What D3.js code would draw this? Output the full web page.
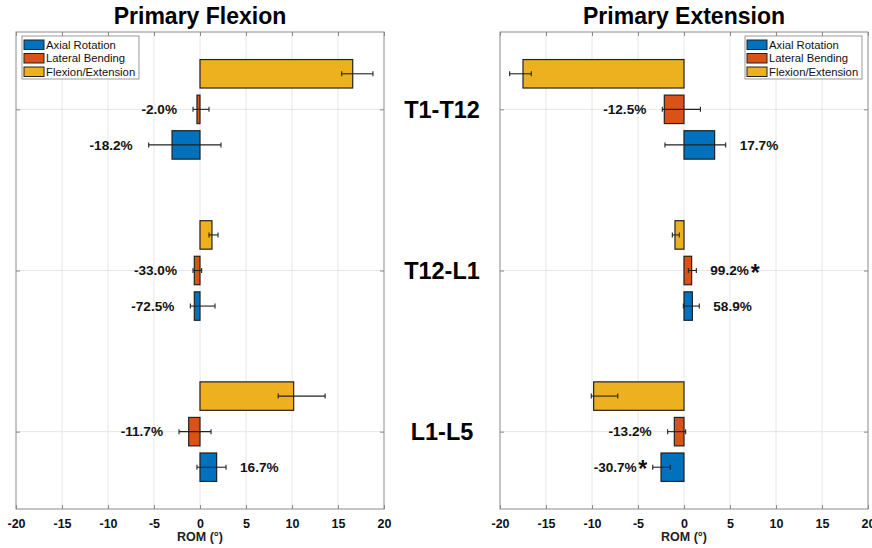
<!DOCTYPE html>
<html lang="en">
<head>
<meta charset="utf-8">
<title>ROM change by level</title>
<script src="https://cdnjs.cloudflare.com/ajax/libs/d3/7.8.5/d3.min.js"></script>
<style>
  body { margin: 0; background: #fff; }
  svg { font-family: "Liberation Sans", Arial, Helvetica, sans-serif; }
  .grid line { stroke: #e6e6e6; stroke-width: 1; }
  .pct { font-weight: bold; font-size: 13.6px; fill: #111; }
  .tick-lbl { font-weight: bold; font-size: 12.5px; fill: #111; }
</style>
</head>
<body>
<svg id="chart" width="872" height="548"></svg>
<script>
// categories and series
var levels = ["T1-T12", "T12-L1", "L1-L5"];
var motions = ["Axial Rotation", "Lateral Bending", "Flexion/Extension"];
var xTicks = [-20, -15, -10, -5, 0, 5, 10, 15, 20];

// Primary Flexion (deg): mean, error bar low, error bar high
var flexAxial = [-3.04, -0.62, 1.81];
var flexAxialLo = [-5.58, -1.05, -0.33];
var flexAxialHi = [2.28, 1.63, 2.83];
var flexLateral = [-0.33, -0.62, -1.23];
var flexLateralLo = [-0.76, -0.76, -2.28];
var flexLateralHi = [0.98, 0.18, 1.2];
var flexFE = [16.6, 1.3, 10.18];
var flexFELo = [15.4, 0.98, 8.5];
var flexFEHi = [18.8, 1.96, 13.6];
var flexAxialPct = [-18.2, -72.5, 16.7];
var flexLateralPct = [-2.0, -33.0, -11.7];
var flexAxialSig = [false, false, false];
var flexLateralSig = [false, false, false];

// Primary Extension (deg)
var extAxial = [3.33, 0.91, -2.5];
var extAxialLo = [-2.07, -0.07, -3.4];
var extAxialHi = [4.53, 1.66, -1.49];
var extLateral = [-2.14, 0.83, -1.05];
var extLateralLo = [-2.36, 0.47, -1.78];
var extLateralHi = [1.78, 1.34, 0.18];
var extFE = [-17.5, -0.98, -9.82];
var extFELo = [-18.95, -1.27, -10.08];
var extFEHi = [-16.6, -0.51, -7.2];
var extAxialPct = [17.7, 58.9, -30.7];
var extLateralPct = [-12.5, 99.2, -13.2];
var extAxialSig = [false, false, true];
var extLateralSig = [false, true, false];

var colors = { "Axial Rotation": "#0072BD", "Lateral Bending": "#D95319", "Flexion/Extension": "#EDB120" };

function rows(vals, lo, hi, pct, sig, motion) {
  return levels.map(function (lv, i) {
    return { level: lv, motion: motion, v: vals[i], lo: lo[i], hi: hi[i],
             pct: pct ? pct[i] : null, sig: sig ? sig[i] : false };
  });
}

var panels = [
  { title: "Primary Flexion", left: 16, legend: "left",
    data: [].concat(
      rows(flexAxial, flexAxialLo, flexAxialHi, flexAxialPct, flexAxialSig, "Axial Rotation"),
      rows(flexLateral, flexLateralLo, flexLateralHi, flexLateralPct, flexLateralSig, "Lateral Bending"),
      rows(flexFE, flexFELo, flexFEHi, null, null, "Flexion/Extension")) },
  { title: "Primary Extension", left: 500, legend: "right",
    data: [].concat(
      rows(extAxial, extAxialLo, extAxialHi, extAxialPct, extAxialSig, "Axial Rotation"),
      rows(extLateral, extLateralLo, extLateralHi, extLateralPct, extLateralSig, "Lateral Bending"),
      rows(extFE, extFELo, extFEHi, null, null, "Flexion/Extension")) }
];

var svg = d3.select("#chart");
var pw = 368, plotTop = 32, plotBottom = 509;

var y = d3.scalePoint().domain(levels).range([plotTop, plotBottom]).padding(0.48);
var step = y.step();
var sub = d3.scaleBand().domain(["Flexion/Extension", "Lateral Bending", "Axial Rotation"])
  .range([-step * 0.309, step * 0.309]).paddingInner(0.2);

panels.forEach(function (p) {
  var x = d3.scaleLinear().domain([-20, 20]).range([p.left, p.left + pw]);
  var g = svg.append("g");

  // grid
  var grid = g.append("g").attr("class", "grid");
  grid.selectAll(".gx").data(xTicks.slice(1, -1)).enter().append("line")
    .attr("x1", function (d) { return x(d); }).attr("x2", function (d) { return x(d); })
    .attr("y1", plotTop).attr("y2", plotBottom);
  grid.selectAll(".gy").data(levels).enter().append("line")
    .attr("x1", p.left).attr("x2", p.left + pw)
    .attr("y1", function (d) { return y(d); }).attr("y2", function (d) { return y(d); });

  // bottom axis labels
  var ax = g.append("g").attr("transform", "translate(0," + plotBottom + ")")
    .call(d3.axisBottom(x).tickValues(xTicks).tickSize(-4).tickPadding(10)
      .tickFormat(function (d) { return String(d); }));
  ax.select(".domain").remove();
  ax.selectAll("line").attr("stroke", "#888");
  ax.selectAll("text").attr("class", "tick-lbl").attr("fill", "#111").style("font-family", "inherit");

  var axTop = g.append("g").attr("transform", "translate(0," + plotTop + ")")
    .call(d3.axisTop(x).tickValues(xTicks).tickSize(-4).tickFormat(""));
  axTop.select(".domain").remove();
  axTop.selectAll("line").attr("stroke", "#888");

  var ayL = g.append("g").attr("transform", "translate(" + p.left + ",0)")
    .call(d3.axisLeft(y).tickSize(-4).tickFormat(""));
  ayL.select(".domain").remove();
  ayL.selectAll("line").attr("stroke", "#888");
  var ayR = g.append("g").attr("transform", "translate(" + (p.left + pw) + ",0)")
    .call(d3.axisRight(y).tickSize(-4).tickFormat(""));
  ayR.select(".domain").remove();
  ayR.selectAll("line").attr("stroke", "#888");

  // box
  g.append("rect").attr("x", p.left).attr("y", plotTop).attr("width", pw).attr("height", plotBottom - plotTop)
    .attr("fill", "none").attr("stroke", "#8a8a8a").attr("stroke-width", 1);

  // bars
  g.selectAll(".bar").data(p.data).enter().append("rect")
    .attr("x", function (d) { return x(Math.min(0, d.v)); })
    .attr("width", function (d) { return Math.abs(x(d.v) - x(0)); })
    .attr("y", function (d) { return y(d.level) + sub(d.motion); })
    .attr("height", sub.bandwidth())
    .attr("fill", function (d) { return colors[d.motion]; })
    .attr("stroke", "#222").attr("stroke-width", 1.2);

  // error bars
  var eb = g.selectAll(".eb").data(p.data).enter().append("g")
    .attr("stroke", "#222").attr("stroke-width", 1.1);
  function cy(d) { return y(d.level) + sub(d.motion) + sub.bandwidth() / 2; }
  eb.append("line")
    .attr("x1", function (d) { return x(d.lo); }).attr("x2", function (d) { return x(d.hi); })
    .attr("y1", cy).attr("y2", cy);
  eb.append("line")
    .attr("x1", function (d) { return x(d.lo); }).attr("x2", function (d) { return x(d.lo); })
    .attr("y1", function (d) { return cy(d) - 2.5; }).attr("y2", function (d) { return cy(d) + 2.5; });
  eb.append("line")
    .attr("x1", function (d) { return x(d.hi); }).attr("x2", function (d) { return x(d.hi); })
    .attr("y1", function (d) { return cy(d) - 2.5; }).attr("y2", function (d) { return cy(d) + 2.5; });

  // percent labels
  g.selectAll(".pct").data(p.data.filter(function (d) { return d.pct !== null; }))
    .enter().append("text").attr("class", "pct")
    .attr("x", function (d) { return d.pct < 0 ? x(d.lo) - 16 : x(d.hi) + 14; })
    .attr("y", function (d) { return cy(d) + 4.8; })
    .attr("text-anchor", function (d) { return d.pct < 0 ? "end" : "start"; })
    .text(function (d) { return d.pct.toFixed(1) + "%"; });
  // significance star
  g.selectAll(".star").data(p.data.filter(function (d) { return d.sig; }))
    .enter().append("text")
    .attr("x", function (d) { return d.pct < 0 ? x(d.lo) - 10 : x(d.hi) + 59; })
    .attr("y", function (d) { return cy(d) + 10; })
    .attr("text-anchor", "middle")
    .attr("font-weight", "bold").attr("font-size", 23).attr("fill", "#111")
    .text("*");

  // title
  g.append("text").attr("x", x(0)).attr("y", 24).attr("text-anchor", "middle")
    .attr("font-weight", "bold").attr("font-size", 23).attr("fill", "#000").text(p.title);

  // x label
  g.append("text").attr("x", x(0)).attr("y", 541).attr("text-anchor", "middle")
    .attr("font-weight", "bold").attr("font-size", 12.5).attr("fill", "#222").text("ROM (\u00B0)");

  // legend
  var lw = 117, lh = 43;
  var lx = p.legend === "left" ? p.left + 6 : p.left + pw - 6 - lw;
  var lg = g.append("g").attr("transform", "translate(" + lx + ",36)");
  lg.append("rect").attr("width", lw).attr("height", lh).attr("fill", "#fff").attr("stroke", "#999");
  motions.forEach(function (m, i) {
    lg.append("rect").attr("x", 2).attr("y", 4 + i * 13.5).attr("width", 20).attr("height", 9.5)
      .attr("fill", colors[m]).attr("stroke", "#222").attr("stroke-width", 1);
    lg.append("text").attr("x", 24).attr("y", 12.5 + i * 13.5)
      .attr("font-size", 11.3).attr("fill", "#111").text(m);
  });
});

// level labels in the middle
svg.selectAll(".lvl").data(levels).enter().append("text")
  .attr("x", 442).attr("y", function (d) { return y(d) + 8.5; })
  .attr("text-anchor", "middle").attr("font-weight", "bold").attr("font-size", 23.5).attr("fill", "#000")
  .text(function (d) { return d; });
</script>
</body>
</html>
